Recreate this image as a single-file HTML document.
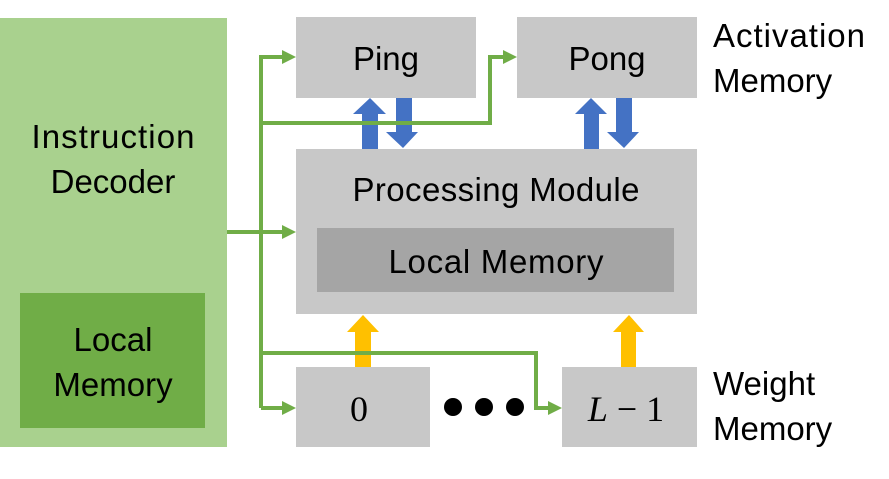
<!DOCTYPE html>
<html><head><style>
body{margin:0;background:#fff;}
svg text{font-family:"Liberation Sans",sans-serif;fill:#000;}
</style></head><body>
<svg width="889" height="474" viewBox="0 0 889 474" xmlns="http://www.w3.org/2000/svg">
<rect x="0" y="18" width="227" height="429" fill="#a9d18e"/>
<rect x="20" y="293" width="185" height="135" fill="#70ad47"/>
<text x="113" y="148" font-size="33" text-anchor="middle" textLength="163">Instruction</text>
<text x="113" y="193" font-size="33" text-anchor="middle">Decoder</text>
<text x="113" y="351" font-size="33" text-anchor="middle">Local</text>
<text x="113" y="396" font-size="33" text-anchor="middle">Memory</text>

<rect x="296" y="17" width="180" height="81" fill="#c8c8c8"/>
<rect x="517" y="17" width="180" height="81" fill="#c8c8c8"/>
<rect x="296" y="149" width="401" height="165" fill="#c8c8c8"/>
<rect x="317" y="228" width="357" height="64" fill="#a5a5a5"/>
<rect x="296" y="367" width="134" height="80" fill="#c8c8c8"/>
<rect x="562" y="367" width="135" height="80" fill="#c8c8c8"/>

<text x="386" y="70" font-size="33" text-anchor="middle">Ping</text>
<text x="607" y="70" font-size="33" text-anchor="middle">Pong</text>
<text x="496" y="201" font-size="33" text-anchor="middle" textLength="287">Processing Module</text>
<text x="496" y="273" font-size="33" text-anchor="middle" textLength="215">Local Memory</text>
<text x="359" y="421" font-size="36" text-anchor="middle" style="font-family:'Liberation Serif',serif">0</text>
<text x="626" y="421" font-size="36" text-anchor="middle" style="font-family:'Liberation Serif',serif"><tspan font-style="italic">L</tspan> − 1</text>
<circle cx="453" cy="407" r="9" fill="#000"/>
<circle cx="484" cy="407" r="9" fill="#000"/>
<circle cx="515" cy="407" r="9" fill="#000"/>
<text x="713" y="47" font-size="33" textLength="152">Activation</text>
<text x="713" y="92" font-size="33">Memory</text>
<text x="713" y="395" font-size="33">Weight</text>
<text x="713" y="440" font-size="33">Memory</text>

<g fill="#4472c4">
<polygon points="362,149 378,149 378,114 386,114 370,98 353,114 362,114"/>
<polygon points="396,98 412,98 412,132 418,132 403,148 386,132 396,132"/>
<polygon points="584,149 599,149 599,114 607,114 591,98 575,114 584,114"/>
<polygon points="616,98 632,98 632,132 639,132 624,148 607,132 616,132"/>
</g>
<g fill="#ffc000">
<polygon points="355,367 371,367 371,332 379,332 363,315 347,332 355,332"/>
<polygon points="621,367 636,367 636,332 644,332 629,315 613,332 621,332"/>
</g>
<g stroke="#70ad47" stroke-width="4" fill="none">
<polyline points="261,408 261,57 284,57"/>
<polyline points="261,123 490,123 490,57 505,57"/>
<polyline points="227,232 284,232"/>
<polyline points="261,353 536,353 536,408 550,408"/>
<polyline points="261,408 284,408"/>
</g>
<g fill="#70ad47">
<polygon points="282,50 296,57 282,64"/>
<polygon points="503,50 517,57 503,64"/>
<polygon points="282,225 296,232 282,239"/>
<polygon points="548,401 562,408 548,415"/>
<polygon points="282,401 296,408 282,415"/>
</g>
</svg>
</body></html>
